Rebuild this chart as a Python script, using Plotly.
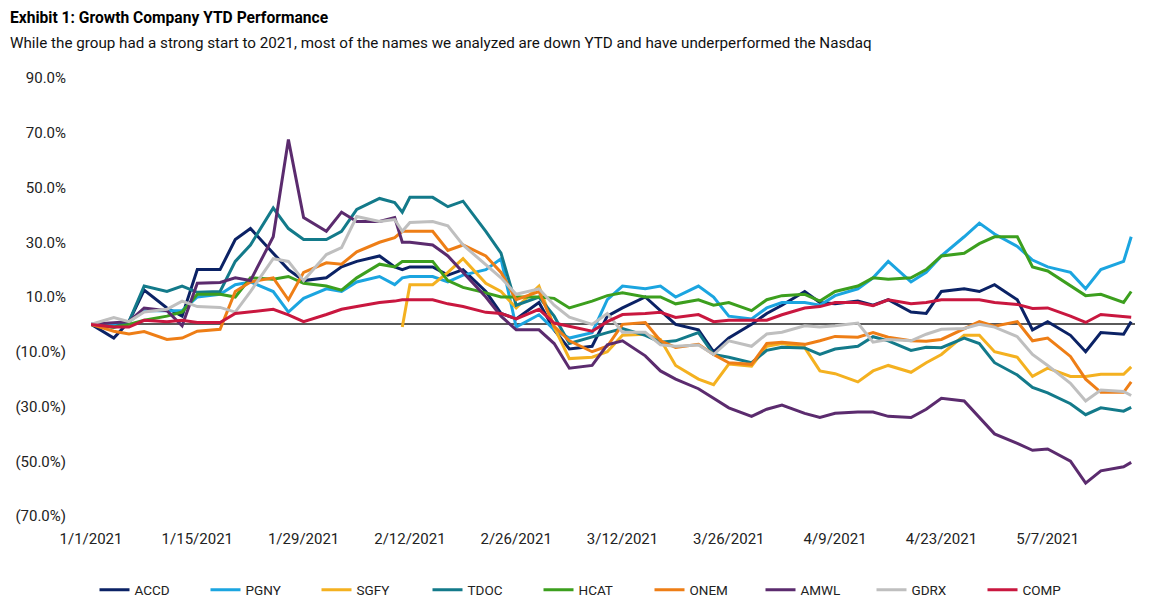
import plotly.graph_objects as go

# ---------------- data ----------------
dates = [
    "2021-01-01", "2021-01-04", "2021-01-06", "2021-01-08", "2021-01-11", "2021-01-13", "2021-01-15",
    "2021-01-18", "2021-01-20", "2021-01-22", "2021-01-25", "2021-01-27", "2021-01-29",
    "2021-02-01", "2021-02-03", "2021-02-05", "2021-02-08", "2021-02-10", "2021-02-11", "2021-02-12",
    "2021-02-15", "2021-02-17", "2021-02-19", "2021-02-22", "2021-02-24", "2021-02-26",
    "2021-03-01", "2021-03-03", "2021-03-05", "2021-03-08", "2021-03-10", "2021-03-12", "2021-03-15",
    "2021-03-17", "2021-03-19", "2021-03-22", "2021-03-24", "2021-03-26", "2021-03-29", "2021-03-31",
    "2021-04-02", "2021-04-05", "2021-04-07", "2021-04-09", "2021-04-12", "2021-04-14", "2021-04-16",
    "2021-04-19", "2021-04-21", "2021-04-23", "2021-04-26", "2021-04-28", "2021-04-30",
    "2021-05-03", "2021-05-05", "2021-05-07", "2021-05-10", "2021-05-12", "2021-05-14", "2021-05-17",
    "2021-05-18",
]

accd = [0, -5, 1, 12.5, 6, 3, 20, 20, 31, 35, 26, 20, 16,
        17, 21, 23, 25, 21, 20, 21, 21, 18, 20, 12, 4, 2,
        8, -2, -9, -8, 3, 6, 10, 5, 0, -2, -10, -5, 0, 4,
        7, 12, 8, 7.5, 8.5, 7, 9, 4.5, 4, 12, 13, 12, 14.5,
        9, -2, 1, -4, -10, -3, -3.6, 1]

pgny = [0, 0, 1, 5, 5, 5, 10, 11, 14.5, 15.5, 12, 4.5, 9.5,
        13, 12, 15.5, 17.5, 14.5, 17, 17.5, 17.5, 15.5, 18, 20, 24, -1,
        3.5, -2, -5, -3, 9, 14, 13, 14, 10, 14, 10, 3, 2, 6,
        8, 8, 7, 10.5, 13, 17, 23, 15.5, 19, 25, 32, 37, 33,
        28.5, 23.5, 21, 19, 13, 20, 23, 32]

sgfy = [None] * 13 + [None] * 5 + [
        -1, 14.5, 14.5, 19, 24, 15, 12, 6,
        14, -1, -12.5, -12, -10, -4, -3.6, -5.5, -15, -20, -22, -14.5, -15.3, -8,
        -7, -8.5, -17, -18, -21, -17, -15, -17.5, -14, -11, -4, -4, -10,
        -12, -19, -16, -19, -19, -18.2, -18.2, -15.5]

tdoc = [0, -1, 1, 14, 12, 14, 11.7, 12, 23, 29, 42.5, 35, 31,
        31, 34, 42, 46, 44.5, 41, 46.4, 46.4, 43, 45, 34, 26, 7,
        10, 3, -7, -4.5, -3, -1.5, -4, -6.5, -6, -3, -11, -12, -14, -9.5,
        -8.4, -8.6, -11, -9, -8, -4.5, -6, -9.5, -8.4, -8.5, -5, -7, -14,
        -18.5, -23, -25, -29, -33, -30.5, -31.7, -30.3]

hcat = [0, -1, 0, 1.5, 3, 4.5, 11, 11, 10, 17, 16.5, 17.5, 15,
        14, 12.5, 17, 22, 21, 23, 23, 23, 16, 13.5, 11.5, 10, 10,
        10, 9.5, 6, 8.5, 10.5, 11.5, 10, 10, 7.5, 9, 7, 8, 5, 9,
        10.5, 11, 8.5, 12, 14, 17, 16.5, 17, 20, 25, 26, 29.5, 32,
        32, 21, 19.5, 14, 10.5, 11, 8, 12]

onem = [0, -2.5, -3.5, -2.6, -5.5, -5, -2.5, -1.8, 12, 15.5, 17, 9, 19,
        22.5, 22, 26.5, 30, 31.7, 34, 34, 34, 27, 29, 25, 19, 9,
        12, -0.7, -6, -10, -8, 0, 0.7, -6, -8.4, -7.3, -11, -14, -14.6, -7,
        -6.5, -7.3, -6, -4.4, -4.7, -3, -4.7, -6, -6.2, -5.5, -1.5, 1, -0.7,
        1, -6, -5, -11.7, -20, -24.8, -24.8, -21]

amwl = [0, 0.5, 1, 6, 5, -0.5, 15, 15.3, 17, 16, 32, 67.5, 39,
        34, 41, 37.6, 37.6, 39, 30, 30, 29, 25, 19, 10, 3, -2,
        -2, -7, -16, -15, -7.5, -6, -11.5, -17, -20, -23.5, -27, -30.5, -33.6, -31,
        -29.5, -32.5, -34, -32.5, -32, -32, -33.6, -34, -31, -27, -28, -34, -40,
        -43.5, -46, -45.5, -50, -58, -53.5, -52, -50.4]

gdrx = [0, 2.5, 1, 4.5, 5.5, 8.5, 6.5, 6.2, 4.5, 12, 24, 23, 16,
        25.5, 28, 39.4, 37.6, 38.3, 34, 37.2, 37.6, 36, 29, 22, 17, 11,
        13, 7, 2.6, 0, 4, -2.9, -2.9, -7.5, -8, -7.5, -11, -6, -8, -3.5,
        -2.9, -0.5, -1, -0.5, 0.5, -6.5, -5.5, -6, -3.6, -1.8, -1.5, 0, -1,
        -4.5, -11, -15, -21.5, -28, -24, -24.5, -26]

comp = [0, -1, -1, 1.5, 1, 1.5, 0.7, 0.7, 4, 4.5, 5.5, 3.5, 1,
        3.6, 5.5, 6.5, 8, 8.5, 9, 9, 9, 7.5, 6.5, 4.4, 4, 2,
        5.5, 0.5, -0.7, -2.5, 1, 3.6, 4, 4.4, 2.5, 3.6, 1, 1.5, 1.5, 1.5,
        3.5, 6, 6.5, 8, 8, 6.8, 9, 7.5, 8, 9, 9, 9, 8,
        7.3, 5.8, 6, 3, 0.7, 3.6, 3, 2.6]

series_names = ["ACCD", "PGNY", "SGFY", "TDOC", "HCAT", "ONEM", "AMWL", "GDRX", "COMP"]
series_values = [accd, pgny, sgfy, tdoc, hcat, onem, amwl, gdrx, comp]
series_colors = ["#0B2265", "#1BA5E0", "#F4B120", "#137A8A", "#3C9F1E",
                 "#EE7E16", "#5B2B6E", "#BFBFBF", "#C9173F"]

x_tick_vals = ["2021-01-01", "2021-01-15", "2021-01-29", "2021-02-12", "2021-02-26",
               "2021-03-12", "2021-03-26", "2021-04-09", "2021-04-23", "2021-05-07"]
x_tick_text = ["1/1/2021", "1/15/2021", "1/29/2021", "2/12/2021", "2/26/2021",
               "3/12/2021", "3/26/2021", "4/9/2021", "4/23/2021", "5/7/2021"]
y_tick_vals = [90, 70, 50, 30, 10, -10, -30, -50, -70]
y_tick_text = ["90.0%", "70.0%", "50.0%", "30.0%", "10.0%",
               "(10.0%)", "(30.0%)", "(50.0%)", "(70.0%)"]

title_text = "Exhibit 1: Growth Company YTD Performance"
subtitle_text = ("While the group had a strong start to 2021, most of the names we analyzed "
                 "are down YTD and have underperformed the Nasdaq")

# ---------------- figure ----------------
# The page body has an 8px margin; keep the figure inside the window so
# nothing overflows, and position everything in figure pixels (= screen - 8).
OFF = 8
W, H = 1144, 599
ML, MR, MT, MB = 83, 17, 70, 91
PW, PH = W - ML - MR, H - MT - MB
FONT = "Roboto, Arial, sans-serif"


def paper_x(screen_x):
    return (screen_x - OFF - ML) / PW


def paper_y(screen_y):
    return (H - MB - (screen_y - OFF)) / PH


def container_y(screen_y):
    return (H - (screen_y - OFF)) / H


fig = go.Figure()
for name, vals, color in zip(series_names, series_values, series_colors):
    fig.add_trace(go.Scatter(
        x=dates, y=vals, mode="lines", name=name,
        line=dict(color=color, width=3), connectgaps=False,
    ))

fig.update_layout(
    width=W, height=H,
    margin=dict(l=ML, r=MR, t=MT, b=MB, autoexpand=False),
    paper_bgcolor="white", plot_bgcolor="white",
    font=dict(family=FONT, size=15, color="#222222"),
    showlegend=True,
    legend=dict(
        orientation="h", x=paper_x(594), xanchor="center", xref="paper",
        y=container_y(590), yanchor="middle", yref="container",
        font=dict(size=13.5, color="#222222"),
        entrywidth=66, entrywidthmode="pixels",
        itemwidth=30, tracegroupgap=0,
    ),
    annotations=[
        dict(text="<b>" + title_text + "</b>", x=paper_x(8), y=paper_y(18),
             xref="paper", yref="paper", showarrow=False,
             xanchor="left", yanchor="middle",
             font=dict(size=15.6, color="#000000", family=FONT)),
        dict(text=subtitle_text, x=paper_x(8), y=paper_y(43),
             xref="paper", yref="paper", showarrow=False,
             xanchor="left", yanchor="middle",
             font=dict(size=15.2, color="#111111", family=FONT)),
    ],
)

fig.update_xaxes(
    type="date", range=["2021-01-01", "2021-05-18 12:00"], automargin=False,
    tickmode="array", tickvals=x_tick_vals, ticktext=x_tick_text,
    showgrid=False, showline=False, zeroline=False, ticks="",
    tickfont=dict(size=15, color="#222222"), ticklabelstandoff=12,
)
fig.update_yaxes(
    range=[-70, 90], automargin=False,
    tickmode="array", tickvals=y_tick_vals, ticktext=y_tick_text,
    showgrid=False, showline=False, ticks="",
    zeroline=True, zerolinecolor="#5A5A5A", zerolinewidth=1.5,
    tickfont=dict(size=15, color="#222222"), ticklabelstandoff=24,
)

fig.write_html("out.html")
